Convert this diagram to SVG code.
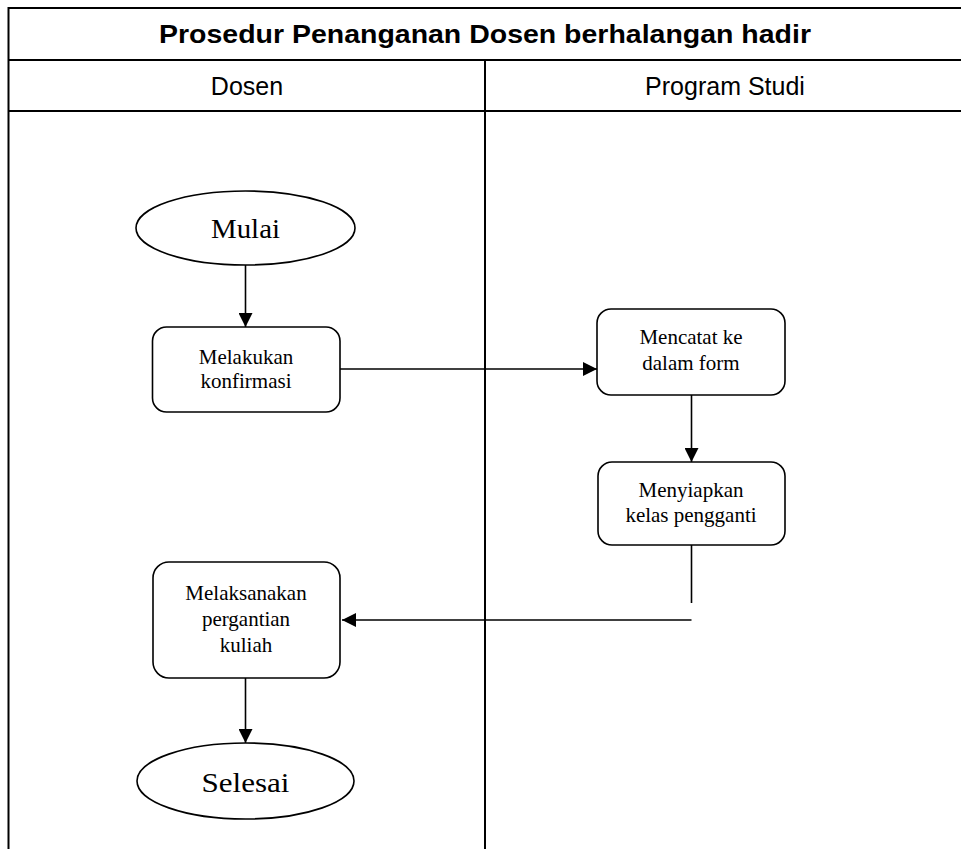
<svg xmlns="http://www.w3.org/2000/svg" width="961" height="849" viewBox="0 0 961 849">
<style>
.grid{stroke:#000;stroke-width:2;fill:none}
.node{fill:#fff;stroke:#000;stroke-width:1.6}
.conn{stroke:#000;stroke-width:1.6;fill:none}
.t{font-family:"Liberation Serif","Times New Roman",serif;font-size:21px;fill:#000;text-anchor:middle}
.tb{font-family:"Liberation Serif","Times New Roman",serif;font-size:28px;fill:#000;text-anchor:middle}
.h{font-family:"Liberation Sans",Arial,sans-serif;font-size:25px;fill:#000;text-anchor:middle}
</style>
<defs>
<marker id="arr" markerWidth="16" markerHeight="14" refX="14" refY="7" orient="auto" markerUnits="userSpaceOnUse">
<path d="M0,0 L14,7 L0,14 z" fill="#000"/>
</marker>
</defs>
<g id="table">
<rect class="grid" x="8.5" y="8" width="955" height="850"/>
<line class="grid" x1="8.5" y1="60" x2="963" y2="60"/>
<line class="grid" x1="8.5" y1="111" x2="963" y2="111"/>
<line class="grid" x1="485" y1="60" x2="485" y2="849"/>
<text class="h" x="485" y="43" font-weight="bold" font-size="27" textLength="652" lengthAdjust="spacingAndGlyphs">Prosedur Penanganan Dosen berhalangan hadir</text>
<text class="h" x="247" y="95">Dosen</text>
<text class="h" x="725" y="95">Program Studi</text>
</g>
<g id="connectors">
<line class="conn" x1="245.5" y1="265" x2="245.5" y2="327" marker-end="url(#arr)"/>
<line class="conn" x1="340" y1="369" x2="597" y2="369" marker-end="url(#arr)"/>
<line class="conn" x1="691.5" y1="395" x2="691.5" y2="462" marker-end="url(#arr)"/>
<polyline class="conn" points="691.5,545 691.5,603"/>
<line class="conn" x1="691.5" y1="620" x2="342" y2="620" marker-end="url(#arr)"/>
<line class="conn" x1="245.5" y1="678" x2="245.5" y2="743" marker-end="url(#arr)"/>
</g>
<g id="mulai">
<ellipse class="node" cx="245.5" cy="228" rx="109.5" ry="37"/>
<text class="tb" x="245.5" y="238" textLength="69" lengthAdjust="spacingAndGlyphs">Mulai</text>
</g>
<g id="konfirmasi">
<rect class="node" x="152.5" y="327" width="187.5" height="85" rx="14"/>
<text class="t" x="246" y="364">Melakukan</text>
<text class="t" x="246" y="388">konfirmasi</text>
</g>
<g id="mencatat">
<rect class="node" x="597" y="309" width="188" height="86" rx="14"/>
<text class="t" x="691" y="344">Mencatat ke</text>
<text class="t" x="691" y="370">dalam form</text>
</g>
<g id="menyiapkan">
<rect class="node" x="598" y="462" width="187" height="83" rx="14"/>
<text class="t" x="691" y="497">Menyiapkan</text>
<text class="t" x="691" y="522">kelas pengganti</text>
</g>
<g id="melaksanakan">
<rect class="node" x="153" y="562" width="187" height="116" rx="16"/>
<text class="t" x="246" y="600">Melaksanakan</text>
<text class="t" x="246" y="626">pergantian</text>
<text class="t" x="246" y="652">kuliah</text>
</g>
<g id="selesai">
<ellipse class="node" cx="245.5" cy="781" rx="108.5" ry="38"/>
<text class="tb" x="245.5" y="792" textLength="88" lengthAdjust="spacingAndGlyphs">Selesai</text>
</g>
</svg>
